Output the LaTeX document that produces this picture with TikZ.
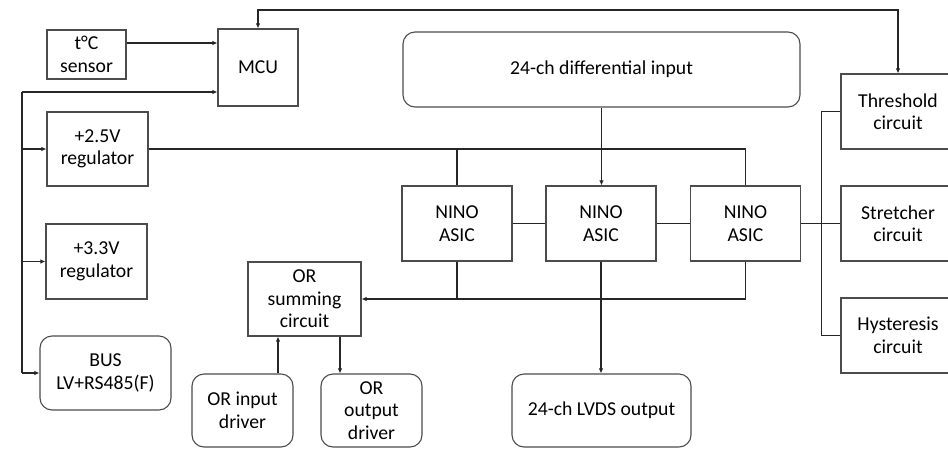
\documentclass[tikz,border=0pt]{standalone}
\usepackage{fontspec}
\setmainfont{Carlito}
\usetikzlibrary{arrows.meta}
\begin{document}
\begin{tikzpicture}[x=1pt,y=-1pt,
        blk/.style={draw=black!70,line width=1.1pt,minimum width=#1,align=center,
            inner sep=0pt,font=\fontsize{19.7}{22.5}\selectfont},
        blk/.default=101,
        rblk/.style={blk=#1,rounded corners=12pt},
        rblk/.default=101,
        wire/.style={line width=1.3pt,black!85},
        arr/.style={wire,-{Latex[length=5pt,width=4.5pt]}}]
    \clip (0,0) rectangle (948,448);
    % left column
    \node[blk=79,minimum height=49] (sensor) at (86.5,54.5) {t°C\\sensor};
    \node[blk=80,minimum height=77] (mcu) at (258,67.5) {MCU};
    \node[blk,minimum height=74] (reg25) at (97.5,149) {+2.5V\\regulator};
    \node[blk,minimum height=75] (reg33) at (96.5,261.5) {+3.3V\\regulator};
    \node[rblk=131,minimum height=74] (bus) at (105.5,373) {BUS\\LV+RS485(F)};
    % OR circuits
    \node[blk=113,minimum height=74] (orsum) at (304.5,299) {OR\\summing\\circuit};
    \node[rblk,minimum height=73] (orin) at (242.5,410.5) {OR input\\driver};
    \node[rblk,minimum height=73] (orout) at (371.5,410.5) {OR\\output\\driver};
    % NINO chain
    \node[rblk=397,minimum height=75] (diffin) at (601.5,69.5) {24-ch differential input};
    \node[blk=110,minimum height=75] (nino1) at (457,223.5) {NINO\\ASIC};
    \node[blk=110,minimum height=75] (nino2) at (601,223.5) {NINO\\ASIC};
    \node[blk=110,minimum height=75] (nino3) at (745.5,223.5) {NINO\\ASIC};
    \node[rblk=179,minimum height=73] (lvds) at (601.5,410.5) {24-ch LVDS output};
    % right column
    \node[blk=114,minimum height=75] (thresh) at (898,111.5) {Threshold\\circuit};
    \node[blk=114,minimum height=75] (stretch) at (898,223.5) {Stretcher\\circuit};
    \node[blk=114,minimum height=75] (hyst) at (898,335.5) {Hysteresis\\circuit};

    \coordinate (lbus) at (22,92);
    \coordinate (top) at (0,10);

    \draw[arr] ([yshift=11.5]sensor.east) -- ([yshift=11.5]sensor.east -| mcu.west);
    \draw[wire] (lbus) -- (lbus |- bus.west);
    \draw[arr] (lbus) -- (lbus -| mcu.west);
    \draw[arr] (lbus |- reg25.west) -- (reg25.west);
    \draw[arr] (lbus |- reg33.west) -- (reg33.west);
    \draw[arr] (lbus |- bus.west) -- (bus.west);
    \draw[wire,{Latex[length=5pt,width=4.5pt]}-{Latex[length=5pt,width=4.5pt]}]
        (mcu.north) -- (mcu.north |- top) -- (thresh.north |- top) -- (thresh.north);

    \draw[wire] (reg25.east) -| (nino3.north);
    \draw[wire] (nino1.north) -- (nino1.north |- reg25.east);
    \draw[arr] (diffin.south) -- (diffin.south |- nino2.north);
    \draw[wire] (nino1.east) -- (nino2.west);
    \draw[wire] (nino2.east) -- (nino3.west);
    \draw[wire] (nino3.east) -- (stretch.west);
    \draw[wire] (thresh.west) -- ++(-19,0) |- (hyst.west);

    \draw[arr] (nino3.south) |- (orsum.east);
    \draw[wire] (nino1.south) -- (nino1.south |- orsum.east);
    \draw[arr] (nino2.south) -- (nino2.south |- lvds.north);
    \draw[arr] ([xshift=35.5]orin.north) -- ([xshift=35.5]orin.north |- orsum.south);
    \draw[arr] ([xshift=35.5]orsum.south) -- ([xshift=35.5]orsum.south |- orout.north);
\end{tikzpicture}
\end{document}
